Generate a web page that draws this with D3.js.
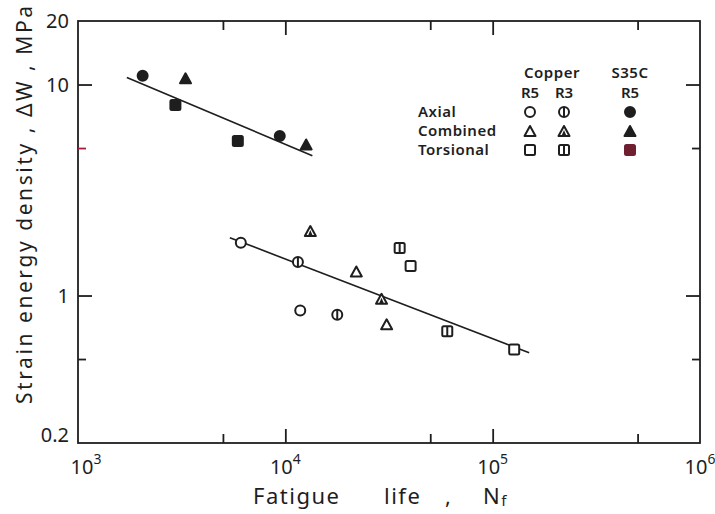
<!DOCTYPE html>
<html>
<head>
<meta charset="utf-8">
<script src="https://cdn.jsdelivr.net/npm/d3@7"></script>
<style>
  html, body { margin: 0; padding: 0; background: #fff; }
  svg { display: block; }
  text { font-family: "Noto Sans", "DejaVu Sans", sans-serif; fill: #1e1e1e; }
</style>
</head>
<body>
<svg id="chart" width="715" height="514"></svg>
<script>
// --- data (Nf, ΔW in MPa) ---
const s35cAxial      = [[2050, 11.0], [9400, 5.7]];
const s35cCombined   = [[3300, 10.7], [12600, 5.2]];
const s35cTorsional  = [[2950, 8.0], [5900, 5.4]];
const cuR5Axial      = [[6100, 1.78], [11800, 0.85]];
const cuR3Axial      = [[11500, 1.44], [17800, 0.81]];
const cuR5Combined   = [[22000, 1.30], [30800, 0.73]];
const cuR3Combined   = [[13200, 2.02], [29100, 0.965]];
const cuR5Torsional  = [[40200, 1.38], [127000, 0.555]];
const cuR3Torsional  = [[35600, 1.68], [60400, 0.677]];
const s35cFit        = [[1720, 10.8], [13500, 4.6]];
const copperFit      = [[5400, 1.88], [150000, 0.535]];

// ticks
const xMajor = [1e3, 1e4, 1e5, 1e6];
const xMinor = [5e3, 5e4, 5e5];
const xExp   = ['3', '4', '5', '6'];
const yMajor = [10, 1];
const yMinor = [5, 0.5];
const yLabels = [[20, '20'], [10, '10'], [1, '1'], [0.2, '0.2']];

// legend
const legendRows = ['Axial', 'Combined', 'Torsional'];
const legendCols = [['Copper', 'R5'], ['', 'R3'], ['S35C', 'R5']];
const legendShapes = ['circle', 'triangle', 'square'];
const legendFills = ['open', 'half', 'filled'];

const svg = d3.select('#chart');
const pL = 78, pR = 700, pT = 21, pB = 443;
const ink = '#1e1e1e';

const x = d3.scaleLog().domain([1e3, 1e6]).range([pL, pR]);
const y = d3.scaleLog().domain([0.2, 20]).range([pB, pT]);

// --- frame ---
svg.append('rect')
  .attr('x', pL).attr('y', pT)
  .attr('width', pR - pL).attr('height', pB - pT)
  .attr('fill', 'none').attr('stroke', ink).attr('stroke-width', 1.8);

// --- ticks (inward, all four sides) ---
function ticks(axisFn, scale, values, size, translate) {
  const g = svg.append('g').attr('transform', translate)
    .call(axisFn(scale).tickValues(values).tickSize(size).tickFormat(''));
  g.select('.domain').remove();
  g.selectAll('.tick line').attr('stroke', ink).attr('stroke-width', 1.8);
  return g;
}
ticks(d3.axisBottom, x, xMajor.slice(1, 3), -14, `translate(0,${pB})`);
ticks(d3.axisBottom, x, xMinor, -9, `translate(0,${pB})`);
ticks(d3.axisTop, x, xMajor.slice(1, 3), -14, `translate(0,${pT})`);
ticks(d3.axisTop, x, xMinor, -9, `translate(0,${pT})`);
ticks(d3.axisLeft, y, yMajor, -14, `translate(${pL},0)`);
ticks(d3.axisLeft, y, yMinor, -8, `translate(${pL},0)`)
  .selectAll('.tick line').attr('stroke', (d) => d === 5 ? '#a3203c' : ink);
ticks(d3.axisRight, y, yMajor, -14, `translate(${pR},0)`);
ticks(d3.axisRight, y, yMinor, -8, `translate(${pR},0)`);

// --- tick labels ---
yLabels.forEach(([v, t]) => {
  svg.append('text')
    .attr('x', 69).attr('y', y(v) + (v === 0.2 ? -1 : 7))
    .attr('text-anchor', 'end').attr('font-size', 20)
    .text(t);
});
xMajor.forEach((v, i) => {
  const t = svg.append('text')
    .attr('x', x(v) + (i === 0 ? 8 : 0)).attr('y', 474)
    .attr('text-anchor', 'middle').attr('font-size', 20);
  t.append('tspan').text('10');
  t.append('tspan').attr('dy', -10).attr('font-size', 14).text(xExp[i]);
});

// --- axis titles ---
svg.append('text')
  .attr('transform', 'translate(32,205) rotate(-90)')
  .attr('text-anchor', 'middle').attr('font-size', 21)
  .attr('textLength', 398).attr('lengthAdjust', 'spacing')
  .text('Strain  energy  density , ΔW , MPa');

const xt = svg.append('g').attr('font-size', 22).attr('letter-spacing', 1.5);
xt.append('text').attr('x', 253).attr('y', 504).text('Fatigue');
xt.append('text').attr('x', 384).attr('y', 504).text('life');
xt.append('text').attr('x', 445).attr('y', 504).text(',');
const nf = xt.append('text').attr('x', 483).attr('y', 504);
nf.append('tspan').text('N');
nf.append('tspan').attr('dy', 2).attr('font-size', 15).text('f');

// --- markers ---
function marker(g, shape, fill, cx, cy, col) {
  const c = col || ink;
  const f = fill === 'filled' ? c : '#fff';
  if (shape === 'circle') {
    g.append('circle').attr('cx', cx).attr('cy', cy).attr('r', 5)
      .attr('fill', f).attr('stroke', c).attr('stroke-width', 2);
    if (fill === 'half') g.append('line')
      .attr('x1', cx).attr('x2', cx).attr('y1', cy - 5).attr('y2', cy + 5)
      .attr('stroke', c).attr('stroke-width', 2);
  } else if (shape === 'triangle') {
    const h = 10, w = 11;
    g.append('path')
      .attr('d', `M${cx},${cy - h / 2}L${cx + w / 2},${cy + h / 2}L${cx - w / 2},${cy + h / 2}Z`)
      .attr('fill', f).attr('stroke', c).attr('stroke-width', 2).attr('stroke-linejoin', 'round');
    if (fill === 'half') g.append('path')
      .attr('d', `M${cx},${cy - 1}L${cx + 2.5},${cy + h / 2}L${cx - 2.5},${cy + h / 2}Z`)
      .attr('fill', c);
  } else {
    g.append('rect').attr('x', cx - 5).attr('y', cy - 5).attr('width', 10).attr('height', 10)
      .attr('rx', 1.5).attr('fill', f).attr('stroke', c).attr('stroke-width', 2);
    if (fill === 'half') g.append('line')
      .attr('x1', cx).attr('x2', cx).attr('y1', cy - 5).attr('y2', cy + 5)
      .attr('stroke', c).attr('stroke-width', 2);
  }
}

// --- fit lines ---
const line = d3.line().x((d) => x(d[0])).y((d) => y(d[1]));
[s35cFit, copperFit].forEach((d) => {
  svg.append('path').attr('d', line(d))
    .attr('fill', 'none').attr('stroke', ink).attr('stroke-width', 1.6);
});

// --- points ---
const pts = svg.append('g');
[
  [s35cAxial, 'circle', 'filled'], [s35cCombined, 'triangle', 'filled'], [s35cTorsional, 'square', 'filled'],
  [cuR5Axial, 'circle', 'open'], [cuR3Axial, 'circle', 'half'],
  [cuR5Combined, 'triangle', 'open'], [cuR3Combined, 'triangle', 'half'],
  [cuR5Torsional, 'square', 'open'], [cuR3Torsional, 'square', 'half']
].forEach(([data, shape, fill]) => {
  data.forEach((d) => marker(pts, shape, fill, x(d[0]), y(d[1])));
});

// --- legend ---
const lg = svg.append('g').attr('font-size', 15).attr('font-weight', 600);
const colX = [530, 564, 630];
const rowY = [112, 131, 150];
legendCols.forEach(([head, sub], i) => {
  if (head) lg.append('text').attr('x', i === 0 ? 552 : colX[i]).attr('y', 78)
    .attr('text-anchor', 'middle').attr('letter-spacing', 0.5).text(head);
  lg.append('text').attr('x', colX[i]).attr('y', 98).attr('text-anchor', 'middle').text(sub);
});
legendRows.forEach((r, j) => {
  lg.append('text').attr('x', 418).attr('y', rowY[j] + 5).attr('letter-spacing', 0.5)
    .attr('fill', j === 2 ? '#7a1a32' : ink).text(r);
  legendFills.forEach((fl, i) => {
    marker(lg, legendShapes[j], fl, colX[i], rowY[j], (j === 2 && i === 2) ? '#6e2030' : ink);
  });
});
</script>
</body>
</html>
